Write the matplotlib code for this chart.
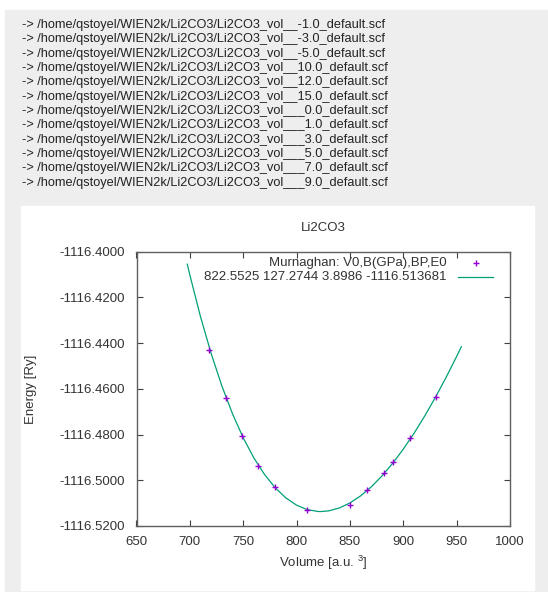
import matplotlib
matplotlib.use("Agg")  # No GUI
import matplotlib.pyplot as plt
from matplotlib.patches import Rectangle
from matplotlib.lines import Line2D

plt.rcParams['font.family'] = ['Liberation Sans', 'DejaVu Sans']
plt.rcParams['mathtext.fontset'] = 'custom'
plt.rcParams['mathtext.rm'] = 'Liberation Sans'

# scf files listed above the plot
vol_tags = ["_-1.0", "_-3.0", "_-5.0", "_10.0", "_12.0", "_15.0",
            "__0.0", "__1.0", "__3.0", "__5.0", "__7.0", "__9.0"]

# E(V) points
volume = [718.4, 733.8, 749.3, 764.3, 779.4, 809.6,
          850.2, 865.6, 882.3, 890.5, 906.2, 930.5]
energy = [-1116.4430, -1116.4641, -1116.4806, -1116.4936, -1116.5031, -1116.5130,
          -1116.5108, -1116.5044, -1116.4967, -1116.4921, -1116.4816, -1116.4634]

# Murnaghan fit curve, sampled along the drawn line
fit_v = [697.6, 700, 710, 720, 730, 740, 750, 760, 770, 780, 790, 800, 810,
         820, 822.55, 830, 840, 850, 860, 870, 880, 890, 900, 910, 920, 930,
         940, 950, 954.4]
fit_e = [-1116.40545, -1116.41018, -1116.42848, -1116.44461, -1116.45873,
         -1116.47096, -1116.48142, -1116.49023, -1116.49748, -1116.50329,
         -1116.50773, -1116.51088, -1116.51283, -1116.51365, -1116.51368,
         -1116.51339, -1116.51213, -1116.50992, -1116.50682, -1116.50287,
         -1116.49812, -1116.49261, -1116.48639, -1116.47949, -1116.47195,
         -1116.46380, -1116.45508, -1116.44581, -1116.44156]

x_ticks = [650, 700, 750, 800, 850, 900, 950, 1000]
y_ticks = [-1116.52, -1116.50, -1116.48, -1116.46, -1116.44, -1116.42, -1116.40]

W, H = 548, 592
fig = plt.figure(figsize=(W / 100, H / 100), dpi=100)


def fx(px):
    return px / W


def fy(py):
    return 1 - py / H


# grey page and white plot panel
fig.patches.append(Rectangle((fx(5), fy(591.5)), fx(543), 581.5 / H,
                             transform=fig.transFigure, color='#eeeeee', zorder=0))
fig.patches.append(Rectangle((fx(21), fy(590)), fx(513), 384 / H,
                             transform=fig.transFigure, color='white', zorder=0))

lines = ["-> /home/qstoyel/WIEN2k/Li2CO3/Li2CO3_vol_{}_default.scf".format(t)
         for t in vol_tags]
for i, s in enumerate(lines):
    fig.text(fx(21.5), fy(25 + i * 14.35), s, fontsize=9.2, color='#222222',
             va='center', ha='left')

ax = fig.add_axes([fx(136.5), fy(526), fx(510 - 136.5), (526 - 251.7) / H])
ax.set_zorder(2)
ax.plot(fit_v, fit_e, color='#00a077', lw=0.9, zorder=2)
ax.plot(volume, energy, ls='none', marker='+', color='#9400d3', ms=5, mew=1.0, zorder=3)

ax.set_xlim(650, 1000)
ax.set_ylim(-1116.52, -1116.40)
ax.set_xticks(x_ticks)
ax.set_yticks(y_ticks)
ax.set_yticklabels(["{:.4f}".format(v) for v in y_ticks])
ax.tick_params(direction='in', length=4.5, width=0.8, color='#404040',
               top=True, right=True, labelsize=9.5, labelcolor='#333333')
ax.tick_params(axis='y', pad=8.3)
ax.tick_params(axis='x', pad=7.5)
for sp in ax.spines.values():
    sp.set_color('#606060')
    sp.set_linewidth(1.0)

fig.text(fx(323), fy(228), "Li2CO3", fontsize=9.5, color='#333333', ha='center', va='center')
fig.text(fx(323), fy(563), "Volume [a.u. $^{3}$]", fontsize=9.5, color='#333333',
         ha='center', va='center')
fig.text(fx(31), fy(389), "Energy [Ry]", fontsize=9.5, color='#333333',
         ha='center', va='center', rotation=90)

# gnuplot style key: text right aligned, sample on the right
fig.text(fx(447), fy(262.7), "Murnaghan: V0,B(GPa),BP,E0", fontsize=9.5,
         color='#333333', ha='right', va='center', zorder=5)
fig.text(fx(447), fy(277.3), "822.5525 127.2744 3.8986 -1116.513681", fontsize=9.5,
         color='#333333', ha='right', va='center', zorder=5)
fig.add_artist(Line2D([fx(476)], [fy(262.7)], marker='+', color='#9400d3', ms=5,
                      mew=1.0, transform=fig.transFigure, zorder=5))
fig.add_artist(Line2D([fx(458), fx(493)], [fy(277.3), fy(277.3)], color='#00a077',
                      lw=0.9, transform=fig.transFigure, zorder=5))

fig.savefig("out.png", dpi=100)
